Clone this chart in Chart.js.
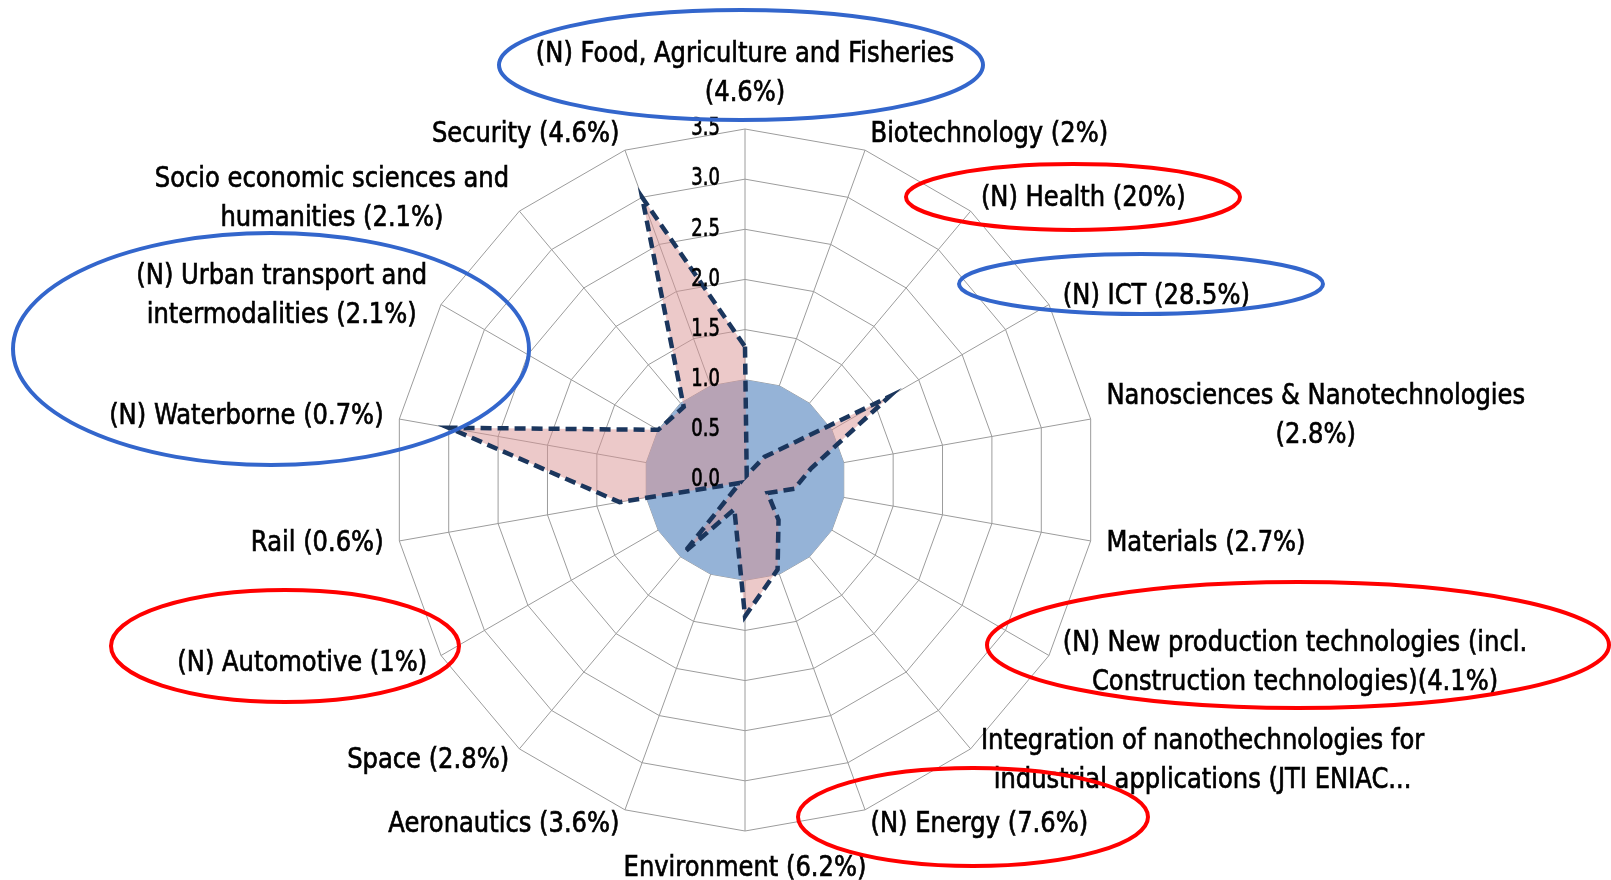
<!DOCTYPE html>
<html>
<head>
<meta charset="utf-8">
<script src="https://cdn.jsdelivr.net/npm/chart.js@4.4.1/dist/chart.umd.min.js"></script>
<style>
  html, body { margin: 0; padding: 0; background: #fff; }
  #wrap { position: relative; width: 1611px; height: 880px; }
</style>
</head>
<body>
<div id="wrap"><canvas id="radar"></canvas></div>
<script>
// ----------------------------
// Data (clockwise from the top)
// ----------------------------
const categories = [
  ["(N) Food, Agriculture and Fisheries", "(4.6%)"],
  ["Biotechnology (2%)"],
  ["(N) Health (20%)"],
  ["(N) ICT (28.5%)"],
  ["Nanosciences & Nanotechnologies", "(2.8%)"],
  ["Materials (2.7%)"],
  ["(N) New production technologies (incl.", "Construction technologies)(4.1%)"],
  ["Integration of nanothechnologies for", "industrial applications (JTI ENIAC..."],
  ["(N) Energy (7.6%)"],
  ["Environment (6.2%)"],
  ["Aeronautics (3.6%)"],
  ["Space (2.8%)"],
  ["(N) Automotive (1%)"],
  ["Rail (0.6%)"],
  ["(N) Waterborne (0.7%)"],
  ["(N) Urban transport and", "intermodalities (2.1%)"],
  ["Socio economic sciences and", "humanities (2.1%)"],
  ["Security (4.6%)"]
];

const ratioValues = [1.33, 0.05, 0.30, 1.66, 0.67, 0.50, 0.26, 0.52, 0.95,
                     1.36, 0.31, 0.94, 0.06, 1.27, 3.00, 1.00, 0.95, 3.00];

const baselineValues = [1, 1, 1, 1, 1, 1, 1, 1, 1,
                        1, 1, 1, 1, 1, 1, 1, 1, 1];

const tickLabels = ["0.0", "0.5", "1.0", "1.5", "2.0", "2.5", "3.0", "3.5"];

// highlighted labels (hand-drawn style ovals)
const BLUE_OVAL = '#3366cc';
const RED_OVAL = '#ff0000';
const highlightOvals = [
  { color: BLUE_OVAL, cx: 741,  cy: 65,  rx: 242, ry: 55 },
  { color: RED_OVAL,  cx: 1073, cy: 197, rx: 167, ry: 33 },
  { color: BLUE_OVAL, cx: 1141, cy: 284, rx: 182, ry: 30 },
  { color: BLUE_OVAL, cx: 271,  cy: 349, rx: 258, ry: 116 },
  { color: RED_OVAL,  cx: 1298, cy: 645, rx: 311, ry: 63 },
  { color: RED_OVAL,  cx: 285,  cy: 646, rx: 174, ry: 56 },
  { color: RED_OVAL,  cx: 973,  cy: 817, rx: 175, ry: 49 }
];

// ----------------------------
// Text helpers
// ----------------------------
const FONT_FAMILY = '"DejaVu Sans", "Noto Sans", sans-serif';
const LABEL_SIZE = 28;
const LABEL_SQUEEZE = 0.865;
const LABEL_LINE = 39;
const LABEL_GAP = 16;
const TICK_SIZE = 24;
const TICK_SQUEEZE = 0.75;
const GRID_COLOR = '#9c9c9c';

function textWidth(ctx, text, squeeze) {
  return ctx.measureText(text).width * squeeze;
}

// condensed, slightly heavy text like the original export
function drawText(ctx, text, x, y, align, squeeze) {
  const w = textWidth(ctx, text, squeeze);
  const left = align === 'left' ? x : align === 'right' ? x - w : x - w / 2;
  ctx.save();
  ctx.translate(left, y);
  ctx.scale(squeeze, 1);
  ctx.textAlign = 'left';
  ctx.textBaseline = 'middle';
  ctx.lineWidth = 0.7;
  ctx.strokeStyle = ctx.fillStyle;
  ctx.fillText(text, 0, 0);
  ctx.strokeText(text, 0, 0);
  ctx.restore();
}

const excelLabels = {
  id: 'excelLabels',
  afterDatasetsDraw(chart) {
    const ctx = chart.ctx;
    const scale = chart.scales.r;
    const n = categories.length;
    ctx.save();
    ctx.fillStyle = '#000';

    // value ticks, left of the vertical axis
    ctx.font = TICK_SIZE + 'px ' + FONT_FAMILY;
    tickLabels.forEach(t => {
      const d = scale.getDistanceFromCenterForValue(parseFloat(t));
      const p = scale.getPointPosition(0, d);
      drawText(ctx, t, p.x - 25, p.y, 'right', TICK_SQUEEZE);
    });

    // category labels
    ctx.font = LABEL_SIZE + 'px ' + FONT_FAMILY;
    categories.forEach((lines, i) => {
      const deg = i * 360 / n;
      const p = scale.getPointPosition(i, scale.drawingArea + LABEL_GAP);
      const w = Math.max(...lines.map(t => textWidth(ctx, t, LABEL_SQUEEZE)));
      const h = lines.length * LABEL_LINE;
      let left, top;
      if (deg === 0) { left = p.x - w / 2; top = p.y - h; }
      else if (deg === 180) { left = p.x - w / 2; top = p.y + 2; }
      else if (deg < 180) { left = p.x; top = p.y - h / 2; }
      else { left = p.x - w; top = p.y - h / 2; }
      lines.forEach((t, k) =>
        drawText(ctx, t, left + w / 2, top + LABEL_LINE * (k + 0.5), 'center', LABEL_SQUEEZE));
    });
    ctx.restore();
  },
  afterDraw(chart) {
    const ctx = chart.ctx;
    ctx.save();
    ctx.lineWidth = 4;
    highlightOvals.forEach(o => {
      ctx.strokeStyle = o.color;
      ctx.beginPath();
      ctx.ellipse(o.cx, o.cy, o.rx, o.ry, 0, 0, Math.PI * 2);
      ctx.stroke();
    });
    ctx.restore();
  }
};

// ----------------------------
// Chart
// ----------------------------
const ctx = document.getElementById('radar').getContext('2d');

new Chart(ctx, {
  type: 'radar',
  data: {
    labels: categories,
    datasets: [
      {
        label: 'Ratio',
        data: ratioValues,
        backgroundColor: 'rgba(217, 148, 147, 0.5)',
        borderColor: '#1b365d',
        borderWidth: 4.5,
        borderDash: [11, 6],
        borderJoinStyle: 'miter',
        fill: true,
        pointRadius: 0
      },
      {
        label: 'Baseline',
        data: baselineValues,
        backgroundColor: '#95b3d7',
        borderWidth: 0,
        fill: true,
        pointRadius: 0
      }
    ]
  },
  options: {
    responsive: true,
    maintainAspectRatio: false,
    animation: false,
    layout: { padding: { left: 394, right: 514, top: 129, bottom: 49 } },
    plugins: { legend: { display: false }, tooltip: { enabled: false } },
    elements: { line: { tension: 0 } },
    scales: {
      r: {
        min: 0,
        max: 3.5,
        ticks: { stepSize: 0.5, display: false },
        grid: { color: GRID_COLOR, lineWidth: 1 },
        angleLines: { color: GRID_COLOR, lineWidth: 1 },
        pointLabels: { display: false }
      }
    }
  },
  plugins: [excelLabels]
});
</script>
</body>
</html>
